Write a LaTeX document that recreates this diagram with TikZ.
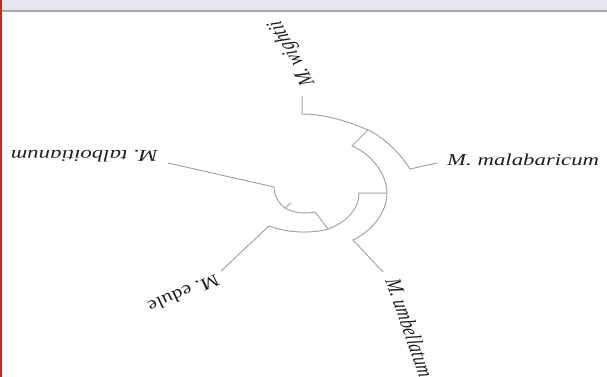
\documentclass[tikz,border=0pt]{standalone}
\usepackage{fontspec}
\setmainfont{Liberation Serif}
\definecolor{treegray}{RGB}{165,165,165}
\definecolor{barfill}{RGB}{228,233,240}
\definecolor{barline}{RGB}{168,169,172}
\definecolor{edgered}{RGB}{215,35,30}
\definecolor{labelink}{RGB}{30,30,30}
\begin{document}
\begin{tikzpicture}[x=1pt,y=-1pt,
    branch/.style={draw=treegray, line width=1pt},
    taxon/.style={font=\fontsize{22.8}{22.8}\selectfont\itshape, text=labelink,
                  inner sep=0pt, anchor=base west, yscale=0.73}]
  \useasboundingbox (0,0) rectangle (607,377);
  % window frame
  \fill[barfill] (0,0) rectangle (607,10);
  \draw[barline, line width=2pt] (0,11) -- (607,11);
  \draw[edgered, line width=1.5pt] (0.75,0) -- (0.75,377);

  % tree points
  \coordinate (wtip)   at (302,96);
  \coordinate (wfork)  at (302,114);
  \coordinate (ab)     at (368,130);
  \coordinate (mfork)  at (410,169);
  \coordinate (mtip)   at (437,163);
  \coordinate (abin)   at (352,146);
  \coordinate (abc)    at (387,193);
  \coordinate (ufork)  at (353,240);
  \coordinate (utip)   at (383,272);
  \coordinate (abcin)  at (359,193);
  \coordinate (abcd)   at (328,229);
  \coordinate (efork)  at (269,226);
  \coordinate (etip)   at (221,271);
  \coordinate (abcdin) at (315,212);
  \coordinate (root)   at (285,208);
  \coordinate (rstub)  at (291,203);
  \coordinate (tfork)  at (274,187);
  \coordinate (ttip)   at (168,163);

  % taxa
  \node[taxon, rotate=112]   (wightii)  at (315,84)  {M. wightii};
  \node[taxon]               (malab)    at (447,165) {M. malabaricum};
  \node[taxon, rotate=-75.5] (umbell)   at (385,280) {M. umbellatum};
  \node[taxon, rotate=209.5] (edule)    at (215,274) {M. edule};
  \node[taxon, rotate=180]   (talboit)  at (158,150) {M. talboitianum};

  % branches
  \draw[branch] (wtip) -- (wfork) .. controls (325,114) and (350,122) .. (ab)
                .. controls (384,137.5) and (400,153) .. (mfork) -- (mtip);
  \draw[branch] (ab) -- (abin) .. controls (368,152) and (387,172) .. (abc)
                .. controls (387,214) and (370,232) .. (ufork) -- (utip);
  \draw[branch] (abc) -- (abcin) .. controls (359,210) and (345,223) .. (abcd)
                .. controls (315,233) and (290,234) .. (efork) -- (etip);
  \draw[branch] (abcd) -- (abcdin) .. controls (305,214) and (293,213) .. (root)
                .. controls (278,203) and (274,195) .. (tfork) -- (ttip);
  \draw[branch] (root) -- (rstub);
\end{tikzpicture}
\end{document}
